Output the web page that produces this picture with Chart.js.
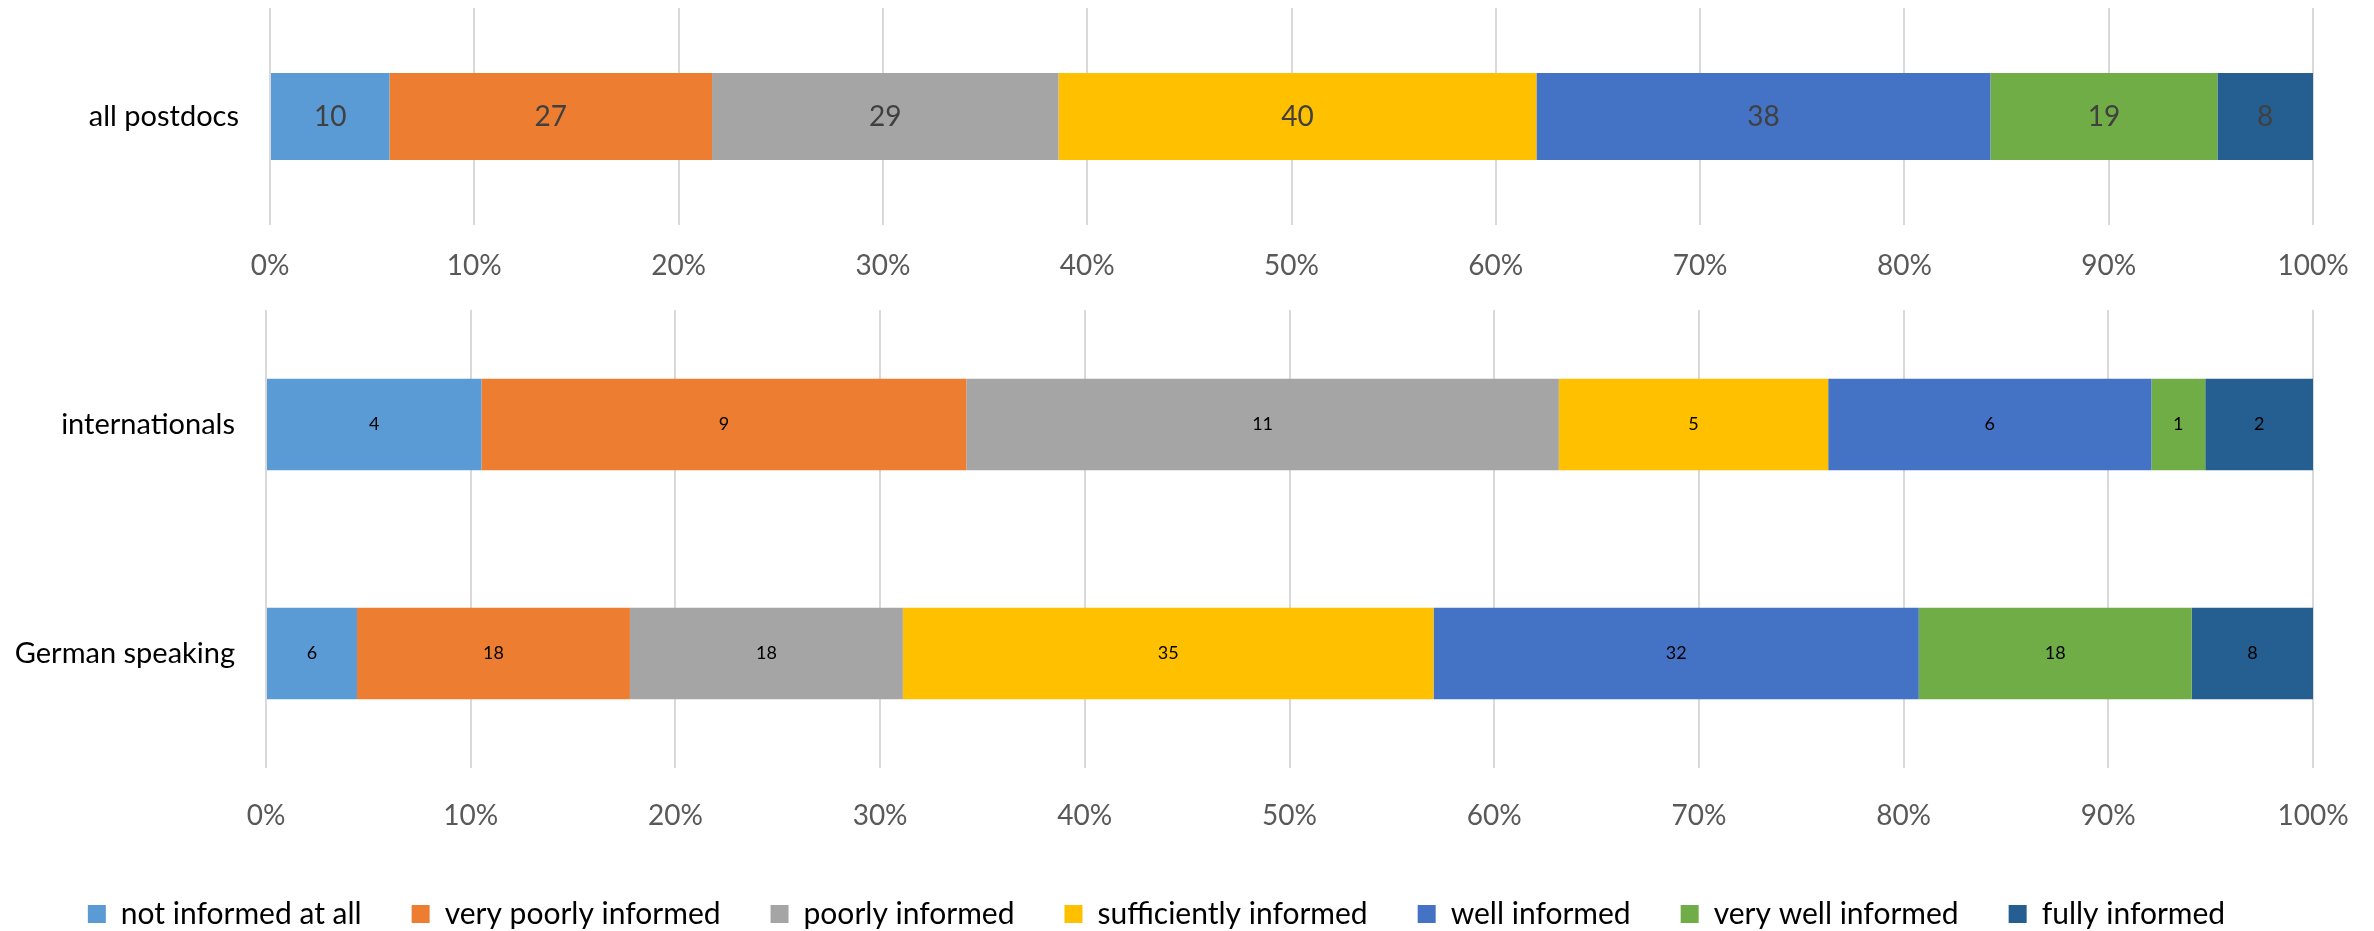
<!DOCTYPE html>
<html>
<head>
<meta charset="utf-8">
<script src="https://cdn.jsdelivr.net/npm/chart.js@4"></script>
<style>
  body { margin: 0; background: #fff; overflow: hidden; }
  .box { position: absolute; left: 0; width: 2374px; }
  #topBox { top: 0; height: 300px; }
  #bottomBox { top: 300px; height: 639px; }
</style>
</head>
<body>
<div class="box" id="topBox"><canvas id="topChart"></canvas></div>
<div class="box" id="bottomBox"><canvas id="bottomChart"></canvas></div>
<script>
const levels = ['not informed at all', 'very poorly informed', 'poorly informed', 'sufficiently informed', 'well informed', 'very well informed', 'fully informed'];
const levelColors = ['#5B9BD5', '#ED7D31', '#A5A5A5', '#FFC000', '#4472C4', '#70AD47', '#255E91'];

const topGroups = ['all postdocs'];
const allPostdocs = [10, 27, 29, 40, 38, 19, 8];

const bottomGroups = ['internationals', 'German speaking'];
const internationals = [4, 9, 11, 5, 6, 1, 2];
const germanSpeaking = [6, 18, 18, 35, 32, 18, 8];

const tickLabels = ['0%', '10%', '20%', '30%', '40%', '50%', '60%', '70%', '80%', '90%', '100%'];

const fontFamily = 'Lato, "Noto Sans", sans-serif';

// writes the raw count in the middle of every segment
const segmentLabels = {
  id: 'segmentLabels',
  afterDatasetsDraw(chart, args, opts) {
    const ctx = chart.ctx;
    ctx.save();
    ctx.font = opts.size + 'px ' + fontFamily;
    ctx.fillStyle = opts.color;
    ctx.textAlign = 'center';
    ctx.textBaseline = 'middle';
    chart.data.datasets.forEach((ds, i) => {
      chart.getDatasetMeta(i).data.forEach((bar, j) => {
        const c = bar.getCenterPoint();
        ctx.fillText(ds.counts[j], c.x, c.y);
      });
    });
    ctx.restore();
  }
};

function buildDatasets(rows) {
  const totals = rows.map(r => r.reduce((a, b) => a + b, 0));
  return levels.map((name, i) => ({
    label: name,
    counts: rows.map(r => r[i]),
    data: rows.map((r, k) => r[i] / totals[k] * 100),
    backgroundColor: levelColors[i],
    borderWidth: 0,
    barPercentage: 0.4,
    categoryPercentage: 1
  }));
}

function makeChart(id, groups, rows, cfg) {
  return new Chart(document.getElementById(id), {
    type: 'bar',
    data: { labels: groups, datasets: buildDatasets(rows) },
    plugins: [segmentLabels],
    options: {
      indexAxis: 'y',
      responsive: true,
      maintainAspectRatio: false,
      animation: false,
      layout: { padding: { top: cfg.padTop, right: 61, bottom: 0 } },
      scales: {
        x: {
          stacked: true,
          min: 0,
          max: 100,
          grid: { color: '#D9D9D9', lineWidth: 2, drawTicks: false },
          border: { display: false },
          ticks: {
            stepSize: 10,
            padding: cfg.tickPad,
            color: '#595959',
            font: { family: fontFamily, size: 28 },
            callback: (v, i) => tickLabels[i]
          },
          afterFit: s => {
            s.height = cfg.xHeight;
            s.paddingLeft = 0;
            s.paddingRight = 0;
          }
        },
        y: {
          stacked: true,
          grid: { display: false, drawTicks: false },
          border: { display: false },
          ticks: { padding: 31, color: '#000', font: { family: fontFamily, size: 29 } },
          afterFit: s => {
            s.width = cfg.yWidth;
            s.paddingTop = 0;
            s.paddingBottom = 0;
          }
        }
      },
      plugins: {
        tooltip: { enabled: false },
        segmentLabels: { size: cfg.labelSize, color: cfg.labelColor },
        legend: {
          display: cfg.legend,
          position: 'bottom',
          labels: {
            boxWidth: 18,
            boxHeight: 18,
            padding: 50,
            color: '#000',
            font: { family: fontFamily, size: 30 }
          }
        }
      }
    }
  });
}

makeChart('topChart', topGroups, [allPostdocs], {
  padTop: 8, xHeight: 75, yWidth: 270, tickPad: 24,
  labelSize: 28, labelColor: '#404040', legend: false
});

makeChart('bottomChart', bottomGroups, [internationals, germanSpeaking], {
  padTop: 10, xHeight: 81, yWidth: 266, tickPad: 31,
  labelSize: 18, labelColor: '#000', legend: true
});
</script>
</body>
</html>
